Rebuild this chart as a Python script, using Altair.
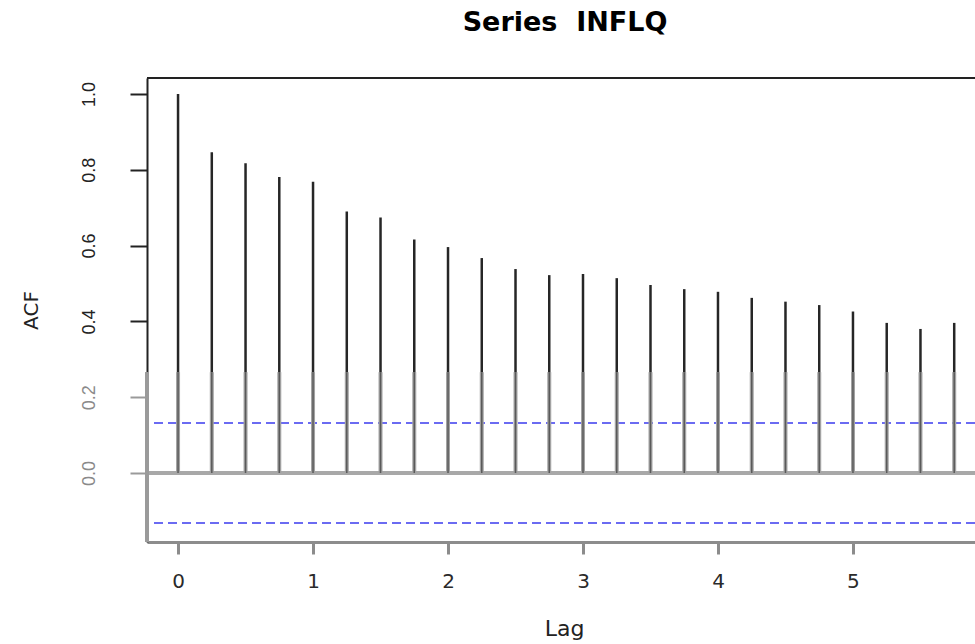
import altair as alt
import pandas as pd

# Data
lags = [0.0, 0.25, 0.5, 0.75, 1.0, 1.25, 1.5, 1.75, 2.0, 2.25, 2.5, 2.75,
        3.0, 3.25, 3.5, 3.75, 4.0, 4.25, 4.5, 4.75, 5.0, 5.25, 5.5, 5.75]
acf = [1.000, 0.846, 0.817, 0.781, 0.768, 0.690, 0.674, 0.616, 0.596, 0.567,
       0.538, 0.522, 0.525, 0.514, 0.496, 0.485, 0.478, 0.462, 0.452, 0.443,
       0.426, 0.396, 0.380, 0.396]
ci_bounds = [0.132, -0.132]
x_ticks = [0, 1, 2, 3, 4, 5]
y_ticks = [0.0, 0.2, 0.4, 0.6, 0.8, 1.0]

FADE = 0.266  # level below which the reference picture is greyed out

df = pd.DataFrame({"lag": lags, "acf": acf})
ci_df = pd.DataFrame({"ci": ci_bounds})

W, H = 828, 464
x_scale = alt.Scale(domain=[-0.23, 5.904], nice=False, zero=False)
y_scale = alt.Scale(domain=[-0.182, 1.042], nice=False, zero=False)

x_axis = alt.Axis(
    title="Lag", values=x_ticks, format="d", grid=False,
    domainColor="#8c8c8c", domainWidth=3,
    tickColor="#8c8c8c", tickWidth=3, tickSize=12,
    labelFont="DejaVu Sans", labelFontSize=20, labelColor="#2a2a2a",
    labelPadding=17, labelFlush=False,
    titleFont="DejaVu Sans", titleFontSize=22, titleFontWeight="normal",
    titleColor="#222222", titleX=417, titleY=93, titleAlign="center",
    titleBaseline="alphabetic",
)
y_axis = alt.Axis(
    title="ACF", values=y_ticks, format=".1f", grid=False,
    domainColor="#222222", domainWidth=2,
    tickSize=17, tickWidth=2,
    tickColor=alt.condition("datum.value < 0.25", alt.value("#9a9a9a"), alt.value("#222222")),
    labelColor=alt.condition("datum.value < 0.25", alt.value("#8a8a8a"), alt.value("#222222")),
    labelFont="Liberation Sans", labelFontSize=18, labelAngle=270,
    labelAlign="center", labelBaseline="bottom", labelPadding=32,
    titleFont="DejaVu Sans", titleFontSize=20, titleFontWeight="normal",
    titleColor="#222222", titleAngle=270, titleX=-110, titleY=232,
    titleAlign="center", titleBaseline="alphabetic",
)

base = alt.Chart(df)

bars = base.mark_rule(color="#262626", strokeWidth=2.5).encode(
    x=alt.X("lag:Q", scale=x_scale, axis=x_axis),
    y=alt.Y("acf:Q", scale=y_scale, axis=y_axis),
    y2=alt.datum(0),
)

bars_low = base.transform_calculate(low=f"min(datum.acf, {FADE})").mark_rule(
    color="#a3a3a3", strokeWidth=4
).encode(x="lag:Q", y="low:Q", y2=alt.datum(0))

bars_low_core = base.transform_calculate(low=f"min(datum.acf, {FADE})").mark_rule(
    color="#5a5a5a", strokeWidth=1.5
).encode(x="lag:Q", y="low:Q", y2=alt.datum(0))

zero_line = alt.Chart(ci_df).mark_rule(color="#a8a8a8", strokeWidth=4).encode(
    y=alt.datum(0)
)

ci_lines = alt.Chart(ci_df).mark_rule(
    color="#6b6bf2", strokeWidth=2, strokeDash=[9, 5]
).encode(y="ci:Q")

left_fade = alt.Chart(ci_df).mark_rule(color="#9a9a9a", strokeWidth=4).encode(
    x=alt.value(0), y=alt.datum(FADE), y2=alt.datum(-0.182)
)

top_border = alt.Chart(ci_df).mark_rule(color="#222222", strokeWidth=2).encode(
    x=alt.value(0), x2=alt.value(W), y=alt.value(0)
)

chart = alt.layer(
    zero_line, ci_lines, bars, bars_low, bars_low_core, left_fade, top_border
).properties(
    width=W, height=H,
    title=alt.TitleParams(
        text="Series\u00a0 INFLQ", font="DejaVu Sans", fontSize=27,
        fontWeight="bold", color="#000000", anchor="middle", frame="group",
        offset=19, baseline="alphabetic", dx=4,
    ),
    autosize=alt.AutoSizeParams(type="none"),
    padding={"left": 147, "top": 78, "right": 0, "bottom": 102},
).configure_view(stroke=None).configure(background="white")

chart.save("out.html", embed_options={"renderer": "svg", "actions": False})
